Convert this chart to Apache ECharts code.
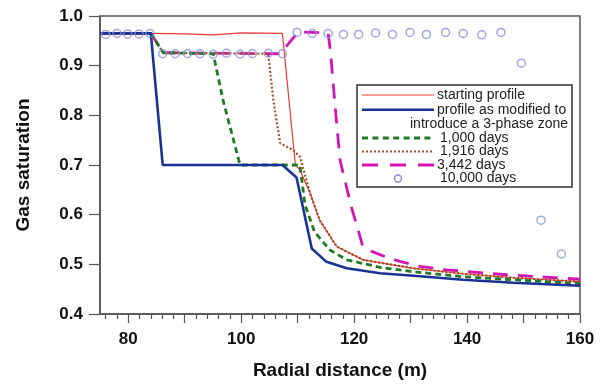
<!DOCTYPE html>
<html>
<head>
<meta charset="utf-8">
<script src="https://cdn.jsdelivr.net/npm/echarts@6/dist/echarts.min.js"></script>
<style>
  html, body { margin: 0; padding: 0; background: #fff; }
  #main { width: 607px; height: 387px; }
</style>
</head>
<body>
<div id="main"></div>
<script>
// [radial distance (m), gas saturation]
const startingProfile = [[75, 0.965], [84, 0.965], [90, 0.964], [95, 0.962], [100, 0.966], [107.3, 0.965],
  [109.6, 0.70], [110.4, 0.69], [112.2, 0.643], [113.9, 0.589], [116.9, 0.536], [121.6, 0.509], [130.5, 0.492],
  [139.3, 0.481], [148.2, 0.473], [160, 0.465]];
const modifiedProfile = [[75, 0.965], [84, 0.965], [86.1, 0.70], [107.3, 0.70], [109.8, 0.675], [112.5, 0.532],
  [115.1, 0.505], [118.7, 0.492], [124.6, 0.482], [130.5, 0.477], [139.3, 0.469], [148.2, 0.463], [160, 0.457]];
const days1000 = [[75, 0.965], [84, 0.965], [86.2, 0.926], [95.05, 0.924], [96.8, 0.83], [99.8, 0.70],
  [110.4, 0.70], [111.3, 0.62], [113, 0.565], [115.7, 0.529], [118.7, 0.509], [124.6, 0.494], [130.5, 0.485],
  [139.3, 0.475], [148.2, 0.469], [160, 0.461]];
const days1916 = [[75, 0.965], [84, 0.965], [86.2, 0.926], [104.8, 0.924], [105.7, 0.83], [106.9, 0.744],
  [109.2, 0.73], [110.4, 0.717], [112.2, 0.643], [113.9, 0.589], [116.9, 0.536], [121.6, 0.509], [130.5, 0.492],
  [139.3, 0.481], [148.2, 0.473], [160, 0.465]];
const days3442 = [[75, 0.965], [84, 0.965], [86.2, 0.926], [106.9, 0.924], [110.1, 0.968], [115.4, 0.966],
  [115.8, 0.93], [116.7, 0.81], [117.5, 0.71], [118.5, 0.663], [119.5, 0.616], [120.7, 0.569], [121.5, 0.538],
  [123.1, 0.526], [126.3, 0.512], [128.1, 0.506], [131.6, 0.496], [136.4, 0.489], [147, 0.479], [157, 0.472],
  [160, 0.470]];
const days10000 = [[76.0, 0.963], [78.0, 0.965], [79.9, 0.964], [81.9, 0.964], [83.85, 0.965],
  [86.1, 0.924], [88.3, 0.924], [90.5, 0.924], [92.7, 0.924], [95.05, 0.923], [97.4, 0.925], [99.8, 0.923],
  [102.0, 0.924], [104.8, 0.925], [107.3, 0.924],
  [109.9, 0.967], [112.6, 0.965], [115.4, 0.965], [118.1, 0.963], [120.8, 0.963], [123.8, 0.966], [126.8, 0.963],
  [129.9, 0.967], [132.8, 0.963], [136.2, 0.967], [139.3, 0.965], [142.6, 0.962], [146.0, 0.967],
  [149.6, 0.905], [153.1, 0.589], [156.7, 0.521]];

const xLabelValues = [80, 100, 120, 140, 160];
const xMajorTickValues = [80, 90, 100, 110, 120, 130, 140, 150, 160];
const xMinorTickValues = [76, 78, 82, 84, 86, 88, 92, 94, 96, 98, 102, 104, 106, 108, 112, 114, 116, 118,
  122, 124, 126, 128, 132, 134, 136, 138, 142, 144, 146, 148, 152, 154, 156, 158];

const axisColor = '#555';
const fontFam = '"Liberation Sans", Arial, sans-serif';

const myChart = echarts.init(document.getElementById('main'), null, {renderer: 'canvas'});

// legend rows drawn by hand because the second text line hangs left of the column
const legendFont = '14px ' + fontFam;
const legendLine = (y, stroke, width, dash) => ({
  type: 'line', z: 101,
  shape: {x1: 362, y1: y, x2: 434, y2: y},
  style: {stroke: stroke, lineWidth: width, lineDash: dash || null}
});
const legendText = (x, y, text, align) => ({
  type: 'text', z: 101, x: x, y: y,
  style: {text: text, font: legendFont, fill: '#222', align: align || 'left', verticalAlign: 'middle'}
});

const option = {
  animation: false,
  grid: {
    left: 100, right: 27, top: 16, bottom: 73,
    show: true, borderColor: axisColor, borderWidth: 1.5
  },
  xAxis: [
    {
      type: 'value', position: 'bottom', min: 75, max: 160,
      axisLine: {show: true, lineStyle: {color: axisColor, width: 1.5}},
      axisTick: {show: true, length: 9, customValues: xMajorTickValues, lineStyle: {color: axisColor, width: 1.2}},
      axisLabel: {
        customValues: xLabelValues, margin: 17,
        fontFamily: fontFam, fontWeight: 'bold', fontSize: 17, color: '#111'
      },
      splitLine: {show: false},
      name: 'Radial distance (m)', nameLocation: 'middle', nameGap: 47,
      nameTextStyle: {fontFamily: fontFam, fontWeight: 'bold', fontSize: 19, color: '#111'}
    },
    {
      type: 'value', position: 'bottom', min: 75, max: 160,
      axisLine: {show: false},
      axisTick: {show: true, length: 5, customValues: xMinorTickValues, lineStyle: {color: axisColor, width: 1.2}},
      axisLabel: {show: false},
      splitLine: {show: false}
    }
  ],
  yAxis: {
    type: 'value', min: 0.4, max: 1.0, interval: 0.1,
    axisLine: {show: true, lineStyle: {color: axisColor, width: 1.5}},
    axisTick: {show: true, length: 11, lineStyle: {color: axisColor, width: 1.2}},
    axisLabel: {
      margin: 17, fontFamily: fontFam, fontWeight: 'bold', fontSize: 17, color: '#111',
      formatter: (v) => v.toFixed(1)
    },
    splitLine: {show: false},
    name: 'Gas saturation', nameLocation: 'middle', nameGap: 67,
    nameTextStyle: {fontFamily: fontFam, fontWeight: 'bold', fontSize: 19, color: '#111'}
  },
  series: [
    {
      name: 'starting profile', type: 'line', data: startingProfile, symbol: 'none', z: 2,
      lineStyle: {color: '#ec3a30', width: 1.2}
    },
    {
      name: '3,442 days', type: 'line', data: days3442, symbol: 'none', z: 3,
      lineStyle: {color: '#d414b4', width: 2.8, type: [15, 10]}
    },
    {
      name: '1,916 days', type: 'line', data: days1916, symbol: 'none', z: 4,
      lineStyle: {color: '#a0502a', width: 2.2, type: [2, 2]}
    },
    {
      name: '1,000 days', type: 'line', data: days1000, symbol: 'none', z: 5,
      lineStyle: {color: '#1f7a22', width: 2.8, type: [6, 4]}
    },
    {
      name: 'profile as modified to introduce a 3-phase zone', type: 'line', data: modifiedProfile,
      symbol: 'none', z: 6,
      lineStyle: {color: '#1c3396', width: 2.6}
    },
    {
      name: '10,000 days', type: 'scatter', data: days10000, symbol: 'circle', symbolSize: 8, z: 7,
      itemStyle: {color: 'rgba(255,255,255,0)', borderColor: '#8a90d8', borderWidth: 1.5}
    }
  ],
  graphic: [
    {type: 'rect', z: 100, shape: {x: 357, y: 85, width: 215, height: 102},
      style: {fill: '#fff', stroke: '#333', lineWidth: 1.5}},
    legendLine(95, '#ec3a30', 1.2),
    legendText(437, 95, 'starting profile'),
    legendLine(109.7, '#1c3396', 2.6),
    legendText(437, 109.7, 'profile as modified to'),
    legendText(568, 123.7, 'introduce a 3-phase zone', 'right'),
    legendLine(138, '#1f7a22', 2.8, [6, 4.4]),
    legendText(440, 138, '1,000 days'),
    legendLine(151.5, '#a0502a', 2.2, [2, 2]),
    legendText(440, 151.5, '1,916 days'),
    legendLine(165, '#d414b4', 2.8, [16, 12]),
    legendText(437, 165, '3,442 days'),
    {type: 'circle', z: 101, shape: {cx: 398, cy: 178.5, r: 3.5},
      style: {fill: 'none', stroke: '#8a90d8', lineWidth: 1.5}},
    legendText(440, 178.5, '10,000 days')
  ]
};

option && myChart.setOption(option);
</script>
</body>
</html>
